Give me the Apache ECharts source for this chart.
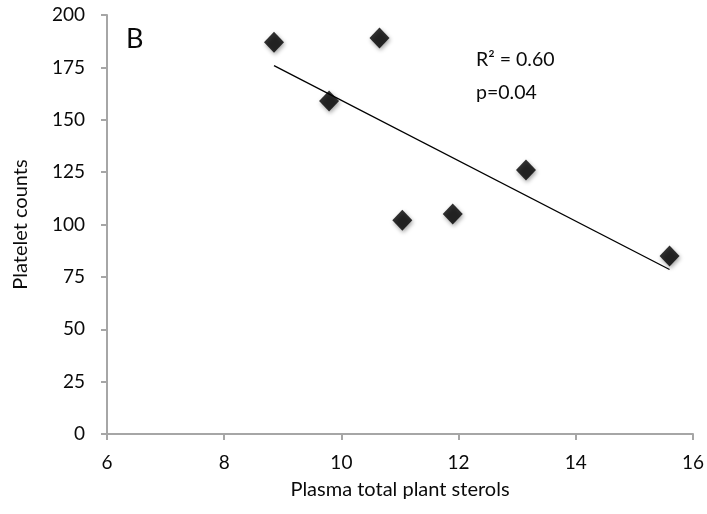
<!DOCTYPE html>
<html>
<head>
<meta charset="utf-8">
<script src="https://cdn.jsdelivr.net/npm/echarts@6/dist/echarts.min.js"></script>
<style>
html,body{margin:0;padding:0;background:#fff;}
#chart{width:707px;height:514px;}
</style>
</head>
<body>
<div id="chart"></div>
<script>
const sterols = [8.85, 9.79, 10.65, 11.04, 11.90, 13.15, 15.60];
const platelets = [187, 159, 189, 102, 105, 126, 85];
const trendX = [8.85, 15.6];
const trendY = [175.8, 78.5];
const xTicks = [6, 8, 10, 12, 14, 16];
const yTicks = [0, 25, 50, 75, 100, 125, 150, 175, 200];
const panelLabel = 'B';
const statsText = ['R² = 0.60', 'p=0.04'];
const xTitle = 'Plasma total plant sterols';
const yTitle = 'Platelet counts';

const FONT = 'Lato';
const TXT = '#0a0a0a';
const chart = echarts.init(document.getElementById('chart'), null, {renderer: 'canvas'});
const axisColor = '#a6a6a6';
chart.setOption({
  animation: false,
  backgroundColor: '#ffffff',
  grid: {left: 107, right: 14, top: 15, bottom: 80},
  xAxis: {
    type: 'value', min: xTicks[0], max: xTicks[xTicks.length - 1], interval: 2,
    name: xTitle, nameLocation: 'middle', nameGap: 46,
    nameTextStyle: {fontFamily: FONT, fontSize: 20, color: TXT},
    axisLine: {show: true, lineStyle: {color: axisColor, width: 2}},
    axisTick: {show: true, length: 6, lineStyle: {color: axisColor, width: 2}},
    axisLabel: {fontFamily: FONT, fontSize: 19, color: TXT, margin: 19},
    splitLine: {show: false}
  },
  yAxis: {
    type: 'value', min: yTicks[0], max: yTicks[yTicks.length - 1], interval: 25,
    name: yTitle, nameLocation: 'middle', nameGap: 76,
    nameTextStyle: {fontFamily: FONT, fontSize: 20, color: TXT},
    axisLine: {show: true, lineStyle: {color: axisColor, width: 2}},
    axisTick: {show: true, length: 6, lineStyle: {color: axisColor, width: 2}},
    axisLabel: {fontFamily: FONT, fontSize: 19, color: TXT, margin: 22},
    splitLine: {show: false}
  },
  series: [
    {
      type: 'line',
      data: trendX.map((x, i) => [x, trendY[i]]),
      symbol: 'none',
      lineStyle: {color: '#000', width: 1.3},
      z: 2
    },
    {
      type: 'scatter',
      data: sterols.map((x, i) => [x, platelets[i]]),
      symbol: 'diamond',
      symbolSize: [20, 21],
      itemStyle: {color: '#000', shadowColor: 'rgba(0,0,0,0.45)', shadowBlur: 4, shadowOffsetX: 1, shadowOffsetY: 2},
      z: 3
    }
  ],
  graphic: [
    {type: 'text', left: 126, top: 26, style: {text: panelLabel, fontFamily: FONT, fontSize: 27, fill: TXT}},
    {type: 'text', left: 476, top: 50, style: {text: statsText[0], fontFamily: FONT, fontSize: 19.5, fill: TXT}},
    {type: 'text', left: 476, top: 83, style: {text: statsText[1], fontFamily: FONT, fontSize: 19.5, fill: TXT}}
  ]
});
</script>
</body>
</html>
